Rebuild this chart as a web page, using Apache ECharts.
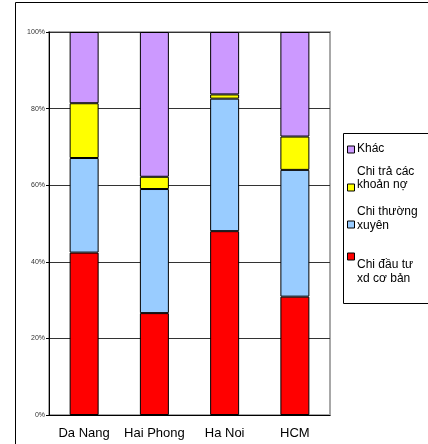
<!DOCTYPE html>
<html>
<head>
<meta charset="utf-8">
<style>
  html, body { margin: 0; padding: 0; background: #fff; }
  #chart { width: 428px; height: 444px; }
</style>
<script src="https://cdn.jsdelivr.net/npm/echarts@6/dist/echarts.min.js"></script>
</head>
<body>
<div id="chart"></div>
<script>
// Spending structure by city, shares in percent (stacked to 100%)
const cities = ['Da Nang', 'Hai Phong', 'Ha Noi', 'HCM'];
const chiDauTu = [42.4, 26.6, 48.0, 30.9];     // Chi đầu tư xd cơ bản
const chiThuongXuyen = [24.7, 32.4, 34.6, 33.1]; // Chi thường xuyên
const chiTraNo = [14.3, 3.2, 1.1, 8.7];        // Chi trả các khoản nợ
const khac = [18.6, 37.8, 16.3, 27.3];         // Khác
const yTicks = [0, 20, 40, 60, 80, 100];

const seriesNames = ['Chi đầu tư xd cơ bản', 'Chi thường xuyên', 'Chi trả các khoản nợ', 'Khác'];
// Wrapped legend captions, one entry per line, keyed by series name
const legendLines = {
  'Khác': ['Khác'],
  'Chi trả các khoản nợ': ['Chi trả các', 'khoản nợ'],
  'Chi thường xuyên': ['Chi thường', 'xuyên'],
  'Chi đầu tư xd cơ bản': ['Chi đầu tư', 'xd cơ bản']
};
const colors = ['#FF0000', '#99CCFF', '#FFFF00', '#CC99FF'];
const FONT = 'Liberation Sans';

function bar(name, data, color) {
  return {
    name: name,
    type: 'bar',
    stack: 'total',
    barWidth: 29,
    data: data,
    itemStyle: { color: color, borderColor: '#000', borderWidth: 1 },
    emphasis: { disabled: true }
  };
}

// Legend swatch for one series, centred at swatchY
function legendSwatch(name, swatchY) {
  return {
    data: [name],
    orient: 'vertical',
    left: 342,
    top: swatchY - 5 - 3.5,
    itemWidth: 7,
    itemHeight: 7,
    icon: 'rect',
    itemStyle: { borderColor: '#000', borderWidth: 1 },
    selectedMode: false,
    formatter: () => '',
    textStyle: { fontSize: 1 }
  };
}

// Legend caption lines; the first one is centred at firstLineY
function legendCaption(name, firstLineY, lineHeight) {
  return legendLines[name].map((line, i) => ({
    type: 'text', silent: true,
    x: 357, y: firstLineY + i * lineHeight,
    style: {
      text: line,
      fontFamily: FONT,
      fontSize: 12,
      fill: '#000',
      align: 'left',
      verticalAlign: 'middle'
    }
  }));
}

const chart = echarts.init(document.getElementById('chart'), null, { renderer: 'canvas' });
chart.setOption({
  animation: false,
  color: colors,
  grid: {
    left: 49, top: 32, right: 98, bottom: 29,
    show: true, borderColor: '#a8a8a8', borderWidth: 2, backgroundColor: 'transparent'
  },
  xAxis: {
    type: 'category',
    data: cities,
    axisLine: { lineStyle: { color: '#000', width: 1 } },
    axisTick: { length: 5, lineStyle: { color: '#000' } },
    axisLabel: { interval: 0, fontFamily: FONT, fontSize: 13, color: '#000', margin: 12 }
  },
  yAxis: {
    type: 'value',
    min: yTicks[0],
    max: yTicks[yTicks.length - 1],
    interval: yTicks[1] - yTicks[0],
    axisLine: { show: true, lineStyle: { color: '#000', width: 1 } },
    axisTick: { show: true, length: 3, lineStyle: { color: '#000' } },
    axisLabel: { fontFamily: FONT, fontSize: 7, color: '#333', margin: 4, formatter: '{value}%' },
    splitLine: { lineStyle: { color: '#333', width: 1 } }
  },
  legend: [
    legendSwatch('Khác', 149),
    legendSwatch('Chi trả các khoản nợ', 187),
    legendSwatch('Chi thường xuyên', 224),
    legendSwatch('Chi đầu tư xd cơ bản', 256)
  ],
  graphic: [
    {
      type: 'rect', silent: true, z: -1,
      shape: { x: 15.5, y: 2.5, width: 500, height: 500 },
      style: { fill: 'none', stroke: '#000', lineWidth: 1 }
    },
    {
      type: 'rect', silent: true,
      shape: { x: 343.5, y: 133.5, width: 120, height: 170 },
      style: { fill: 'none', stroke: '#000', lineWidth: 1 }
    },
    ...legendCaption('Khác', 149, 14),
    ...legendCaption('Chi trả các khoản nợ', 172, 13),
    ...legendCaption('Chi thường xuyên', 212, 14),
    ...legendCaption('Chi đầu tư xd cơ bản', 265, 14)
  ],
  series: [
    bar(seriesNames[0], chiDauTu, colors[0]),
    bar(seriesNames[1], chiThuongXuyen, colors[1]),
    bar(seriesNames[2], chiTraNo, colors[2]),
    bar(seriesNames[3], khac, colors[3])
  ]
});
</script>
</body>
</html>
